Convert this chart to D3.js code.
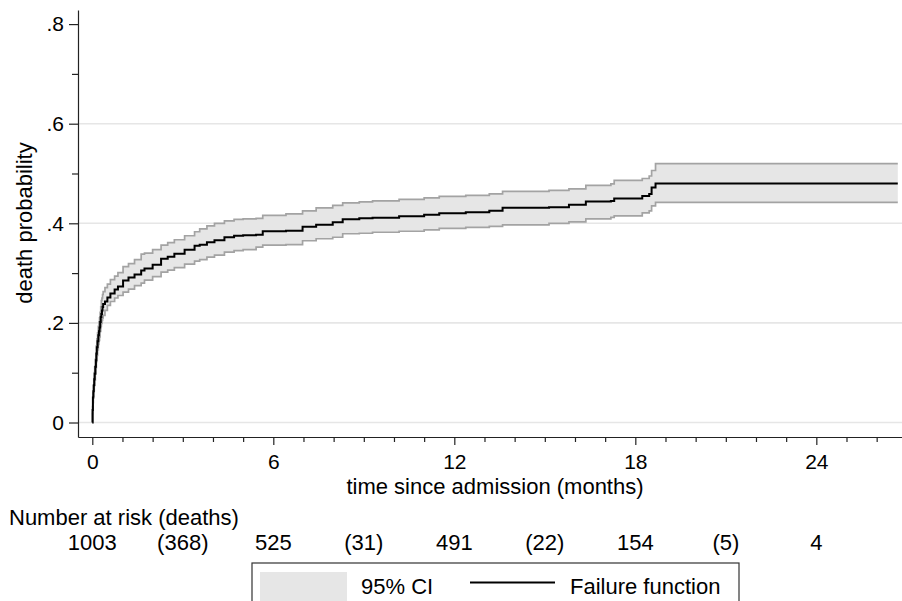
<!DOCTYPE html>
<html>
<head>
<meta charset="utf-8">
<script src="https://cdn.jsdelivr.net/npm/d3@7"></script>
<style>
  body { margin: 0; background: #fff; }
  svg { display: block; font-family: "Liberation Sans", Arial, sans-serif; }
  .axis text { font-size: 21px; fill: #000; }
  .axis path, .axis line { stroke: #222; stroke-width: 1.2; }
</style>
</head>
<body>
<svg id="chart" width="902" height="601"></svg>
<script>
// Kaplan-Meier failure function
const months = [0, 0.01, 0.02, 0.035, 0.05, 0.065, 0.08, 0.10, 0.12, 0.135, 0.15, 0.175, 0.20, 0.22, 0.24,
  0.26, 0.28, 0.30, 0.32, 0.34, 0.36, 0.42, 0.50, 0.60, 0.74, 0.85, 1.02, 1.20, 1.40, 1.62, 1.73, 2.0, 2.28,
  2.50, 2.72, 3.06, 3.39, 3.56, 3.8, 4.05, 4.38, 4.7, 5.0, 5.43, 5.65, 6.42, 6.97, 7.42, 7.97, 8.30, 8.85,
  9.29, 10.17, 11.0, 11.5, 12.38, 13.16, 13.6, 15.14, 15.8, 16.36, 17.19, 17.3, 18.23, 18.46, 18.54, 18.67, 26.7];
const failure = [0, .025, .05, .063, .075, .087, .098, .112, .125, .138, .151, .163, .175, .183, .191,
  .202, .212, .218, .225, .232, .238, .243, .251, .259, .267, .273, .285, .291, .297, .305, .309, .317, .329,
  .333, .339, .347, .355, .357, .362, .366, .372, .375, .376, .377, .384, .385, .393, .397, .402, .408, .410,
  .411, .414, .417, .420, .422, .425, .431, .432, .437, .444, .445, .450, .455, .459, .472, .480, .480];
const ciLower = [0, .018, .04, .053, .064, .075, .085, .098, .11, .122, .135, .146, .157, .165, .172,
  .183, .193, .199, .205, .210, .215, .225, .235, .243, .250, .255, .262, .268, .275, .280, .286, .293, .302,
  .306, .311, .318, .324, .327, .332, .336, .342, .345, .347, .352, .356, .357, .365, .369, .372, .379, .380,
  .382, .384, .387, .390, .392, .394, .397, .400, .403, .409, .412, .415, .421, .425, .435, .442, .442];
const ciUpper = [0, .032, .06, .074, .088, .100, .112, .127, .14, .154, .168, .180, .193, .202, .21,
  .221, .232, .245, .250, .257, .263, .271, .278, .287, .294, .301, .313, .319, .327, .338, .340, .347, .356,
  .361, .367, .375, .383, .389, .395, .400, .405, .408, .409, .410, .416, .419, .425, .431, .436, .441, .443,
  .445, .448, .451, .454, .456, .459, .464, .466, .469, .476, .479, .486, .490, .495, .506, .520, .520];

// number at risk table
const riskTimes = [0, 6, 12, 18, 24];
const atRisk = [1003, 525, 491, 154, 4];
const deathTimes = [3, 9, 15, 21];
const deaths = [368, 31, 22, 5];

const xMajor = [0, 6, 12, 18, 24];
const yMajor = [0, .2, .4, .6, .8];
const yMinor = [.1, .3, .5, .7];
const yGrid = [0, .2, .4, .6];

const svg = d3.select("#chart");

// plot region: left 78, right 902, top 10, bottom 437
const x = d3.scaleLinear().domain([-0.474, 26.84]).range([78, 902]);
const y = d3.scaleLinear().domain([-0.0291, 0.8283]).range([437, 10]);

const data = months.map((t, i) => ({t: t, f: failure[i], lo: ciLower[i], hi: ciUpper[i]}));

// grid
svg.append("g").selectAll("line").data(yGrid).join("line")
  .attr("x1", x.range()[0]).attr("x2", x.range()[1])
  .attr("y1", d => y(d)).attr("y2", d => y(d))
  .attr("stroke", "#e6e6e6").attr("stroke-width", 1.6);

// confidence band
const area = d3.area().curve(d3.curveStepAfter)
  .x(d => x(d.t)).y0(d => y(d.lo)).y1(d => y(d.hi));
svg.append("path").datum(data).attr("d", area).attr("fill", "#e6e6e6");

const lineLo = d3.line().curve(d3.curveStepAfter).x(d => x(d.t)).y(d => y(d.lo));
const lineHi = d3.line().curve(d3.curveStepAfter).x(d => x(d.t)).y(d => y(d.hi));
svg.append("path").datum(data).attr("d", lineLo)
  .attr("fill", "none").attr("stroke", "#a3a3a3").attr("stroke-width", 1.7);
svg.append("path").datum(data).attr("d", lineHi)
  .attr("fill", "none").attr("stroke", "#a3a3a3").attr("stroke-width", 1.7);

// failure function
const lineF = d3.line().curve(d3.curveStepAfter).x(d => x(d.t)).y(d => y(d.f));
svg.append("path").datum(data).attr("d", lineF)
  .attr("fill", "none").attr("stroke", "#000").attr("stroke-width", 2);

// y axis
const fmtY = d => d === 0 ? "0" : d3.format(".1f")(d).replace(/^0/, "");
svg.append("g").attr("class", "axis")
  .attr("transform", `translate(${x.range()[0]},0)`)
  .call(d3.axisLeft(y).tickValues(yMajor).tickFormat(fmtY).tickSize(9).tickSizeOuter(0).tickPadding(5));
svg.append("g").attr("class", "axis")
  .attr("transform", `translate(${x.range()[0]},0)`)
  .call(d3.axisLeft(y).tickValues(yMinor).tickFormat("").tickSize(6).tickSizeOuter(0))
  .select(".domain").remove();

// x axis
const xMinor = d3.range(1, 27).filter(d => d % 6 !== 0);
svg.append("g").attr("class", "axis")
  .attr("transform", `translate(0,${y.range()[0]})`)
  .call(d3.axisBottom(x).tickValues(xMajor).tickSize(8).tickSizeOuter(0).tickPadding(9));
svg.append("g").attr("class", "axis")
  .attr("transform", `translate(0,${y.range()[0]})`)
  .call(d3.axisBottom(x).tickValues(xMinor).tickFormat("").tickSize(5).tickSizeOuter(0))
  .select(".domain").remove();

// axis titles
svg.append("text").attr("x", 495).attr("y", 494)
  .attr("text-anchor", "middle").attr("font-size", 22)
  .text("time since admission (months)");
svg.append("text").attr("transform", "translate(32,223) rotate(-90)")
  .attr("text-anchor", "middle").attr("font-size", 22)
  .text("death probability");

// number at risk
svg.append("text").attr("x", 9).attr("y", 525).attr("font-size", 22)
  .text("Number at risk (deaths)");
svg.append("g").selectAll("text").data(riskTimes).join("text")
  .attr("x", d => x(d)).attr("y", 550).attr("text-anchor", "middle").attr("font-size", 22)
  .text((d, i) => atRisk[i]);
svg.append("g").selectAll("text").data(deathTimes).join("text")
  .attr("x", d => x(d)).attr("y", 550).attr("text-anchor", "middle").attr("font-size", 22)
  .text((d, i) => "(" + deaths[i] + ")");

// legend
const lg = svg.append("g").attr("transform", "translate(252,563)");
lg.append("rect").attr("width", 487).attr("height", 60)
  .attr("fill", "#fff").attr("stroke", "#333").attr("stroke-width", 1.2);
lg.append("rect").attr("x", 8).attr("y", 9).attr("width", 87).attr("height", 40).attr("fill", "#e6e6e6");
lg.append("text").attr("x", 109).attr("y", 31).attr("font-size", 22).text("95% CI");
lg.append("line").attr("x1", 218).attr("x2", 303).attr("y1", 19.5).attr("y2", 19.5)
  .attr("stroke", "#000").attr("stroke-width", 2);
lg.append("text").attr("x", 318).attr("y", 31).attr("font-size", 22).text("Failure function");
</script>
</body>
</html>
